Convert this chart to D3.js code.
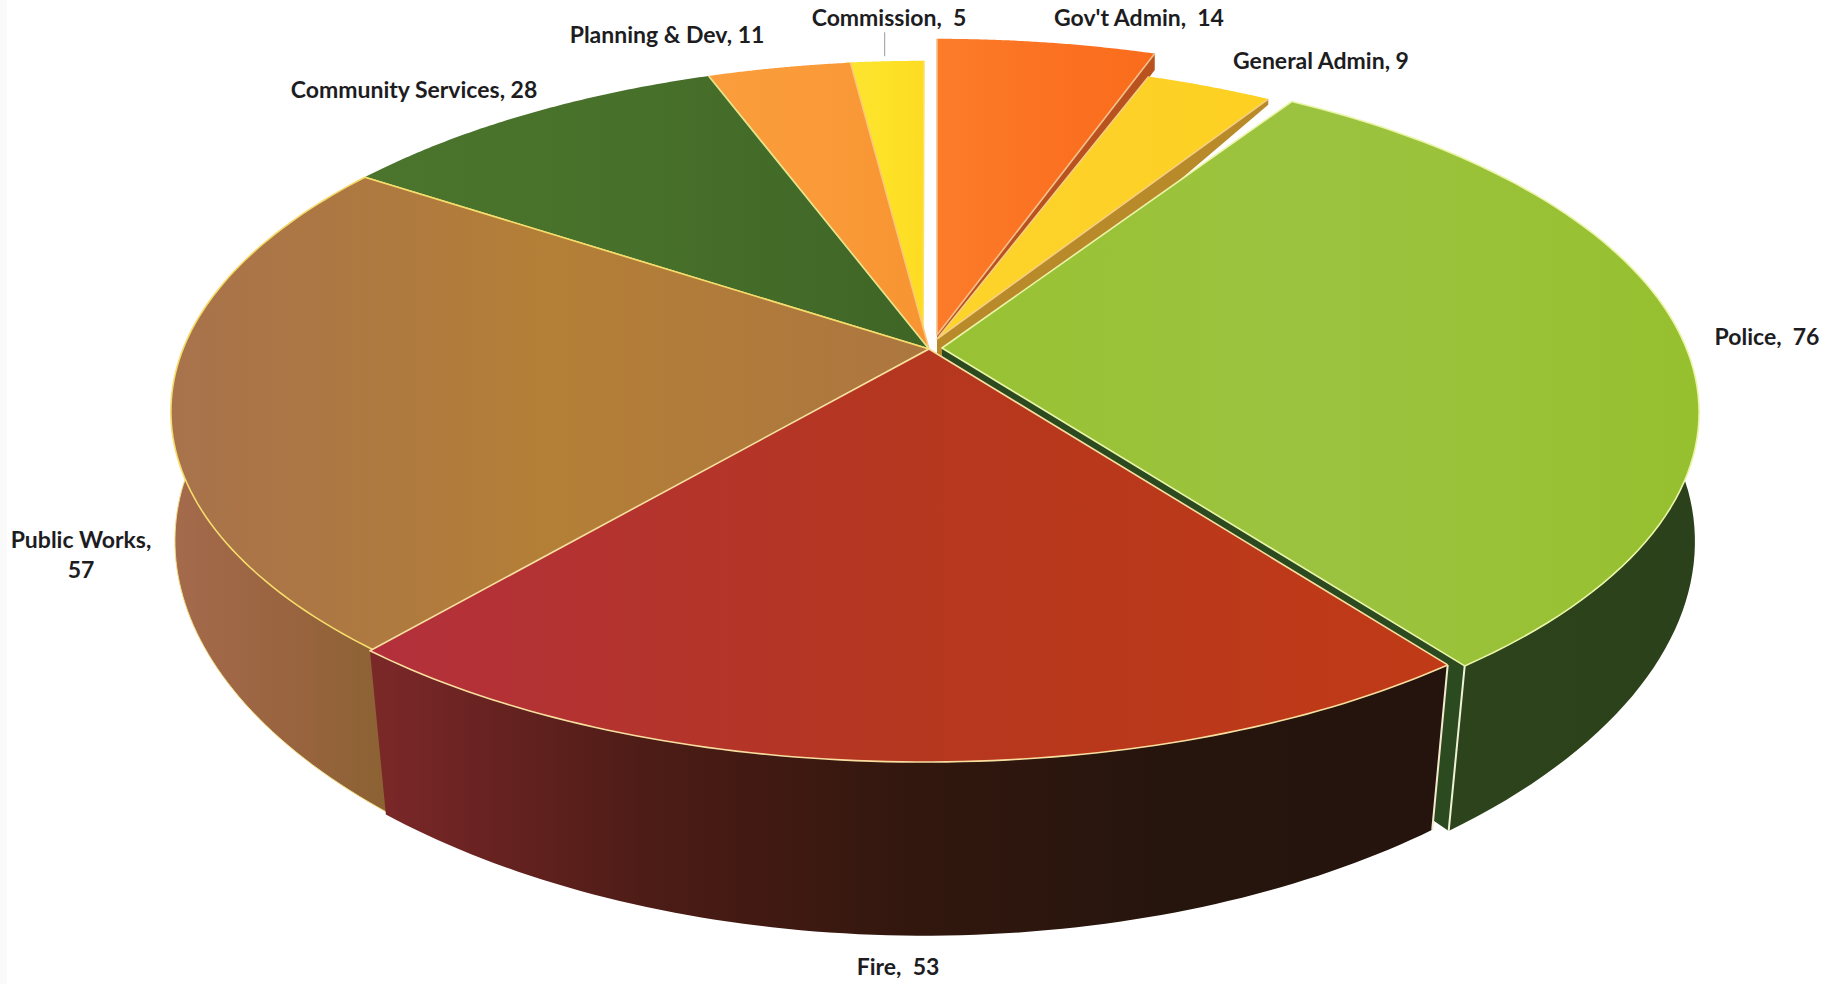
<!DOCTYPE html>
<html><head><meta charset="utf-8">
<script src="https://cdn.jsdelivr.net/npm/d3@7/dist/d3.min.js"></script>
<style>html,body{margin:0;padding:0;background:#fff;overflow:hidden}svg{display:block}text{font-family:Lato,"Open Sans",sans-serif;font-weight:700;fill:#1d1d1f}</style>
</head><body><svg id="c" width="1843" height="984"></svg>
<script>
// Data, clockwise from twelve o'clock
const categories = ["Gov't Admin","General Admin","Police","Fire","Public Works","Community Services","Planning & Dev","Commission"];
const values = [14,9,76,53,57,28,11,5];
const labelLines = [["Gov't Admin,  14"],["General Admin, 9"],["Police,  76"],["Fire,  53"],["Public Works,","57"],["Community Services, 28"],["Planning & Dev, 11"],["Commission,  5"]];

// Colours: stops of each top, left to right
const topColors = [["#fc7c2a","#fb7222","#fa6c1c"],["#fdd42a","#fdd128","#fdd021"],["#98c233","#9cc340","#96c02e"],["#b3303c","#b5371f","#c03a16"],["#a8724c","#b47f36","#ac7640"],["#4b742c","#47702a","#3f6526"],["#fb9d3c","#fa9a38","#f89432"],["#fde430","#fde228","#fddc22"]];
const wallColors = [null,null,["#2d451c","#2c431b","#2b411b"],["#7a2728","#4d1c16","#32170e","#26150d","#24140d"],["#a46a4c","#9a6440","#8b6232"],null,null,null];
const faceColors = ["#b9521f","#b98a2a","#2b4a20",null,null,null,null,null];
const faceRimDepth = [0.15,0.05,1,0,0,0,0,0];
const faceApexDepth = [0.15,0.35,1,0,0,0,0,0];
const edgeColors = ["#f3c08a","#f5cf80","#eaf5a8","#f8dfa0","#f6dc6a","#e6e48a","#fbc878","#fde060"];
// Slice drawing: explosion offsets of rim and apex in pixels [rimDx, rimDy, apexDx, apexDy]
const offsets = [[8,-22,8,-14],[-5,0,8,-10],[12,1,13,-1],[-5,0,0,0],[0,0,0,0],[0,0,0,0],[0,0,0,0],[-5,0,-6,0]];
const rimInsetDeg = [0,0.65,0,0,0,0,0,0];
const hasRimStroke = [false,false,true,true,true,false,false,false];
const labelX = [1139,1321,1767,898,81,414,667,889];
const labelY = [18,61,337,967,540,90,35,18];
const paintOrder = [0,1,2,7,6,5,4,3];

const cx=929, cy=349, a=746, b=339.5, k=0.178;
const sy=1.09, H=136.5;
const warpDeg = d3.scaleLinear()
  .domain([0,19.9,32.7,140.9,216.3,297.4,337.2,352.9,360])
  .range([0,19.9,32.7,143.0,219.9,303.8,339.8,352.9,360]);

function rimPoint(th,off){ // th in degrees clockwise from top
  const t=warpDeg(th)*Math.PI/180, X=Math.sin(t), Y=-Math.cos(t), w=1-k*Y;
  return [cx+a*X/w+off[0], cy+b*Y/w+off[1]];
}
const apexPoint = off => [cx+off[2], cy+off[3]];
const lower = p => {
  const sx=1-0.03*Math.max(0,p[1]-cy)/318;
  return [cx+(p[0]-cx)*sx, cy+(p[1]-cy)*sy+H];
};
const partway = (p,f) => { const q=lower(p); return [p[0]+(q[0]-p[0])*f, p[1]+(q[1]-p[1])*f]; };

const svg=d3.select("#c");
const defs=svg.append("defs");
const line=d3.line();
const pie=d3.pie().sort(null).value(d=>d)(values);
const deg=r=>r*180/Math.PI;

function grad(id,cols,x1,x2){
  const g=defs.append("linearGradient").attr("id",id).attr("gradientUnits","userSpaceOnUse")
    .attr("x1",x1).attr("x2",x2).attr("y1",0).attr("y2",0);
  g.selectAll("stop").data(cols).join("stop").attr("offset",(d,i)=>i/(cols.length-1)).attr("stop-color",d=>d);
  return `url(#${id})`;
}

svg.append("rect").attr("width",7).attr("height",984).attr("fill","#fafafa");

const layer=svg.append("g");
paintOrder.forEach(i=>{
  const s=pie[i], a0=deg(s.startAngle)+rimInsetDeg[i], a1=deg(s.endAngle)-rimInsetDeg[i], off=offsets[i];
  const angles=d3.range(0,81).map(j=>a0+(a1-a0)*j/80);
  const rim=angles.map(t=>rimPoint(t,off));
  const apex=apexPoint(off);
  const xs=rim.map(p=>p[0]).concat(apex[0]);
  const g=layer.append("g").attr("class","slice").datum(categories[i]);
  if(wallColors[i]){
    const low=rim.map(lower).reverse();
    g.append("path").attr("d",line(rim.concat(low))+"Z")
      .attr("fill",grad("w"+i,wallColors[i],d3.min(low,p=>p[0]),d3.max(low,p=>p[0])));
    if(i===4) g.append("path").attr("d",line(rim.map(lower))).attr("fill","none").attr("stroke","#f3dc80").attr("stroke-width",1);
  }
  if(faceColors[i]){
    const e=rim[rim.length-1];
    g.append("path").attr("d",line([apex,e,partway(e,faceRimDepth[i]),partway(apex,faceApexDepth[i])])+"Z").attr("fill",faceColors[i]);
    if(i===2) g.append("path").attr("d",line([e,lower(e)])).attr("stroke","#f0f3d8").attr("stroke-width",2);
  }
  if(i===3||i===4){
    const e=i===3?rim[0]:rim[rim.length-1];
    g.append("path").attr("d",line([e,lower(e)])).attr("stroke",i===3?"#f4ead0":"#f5dca0").attr("stroke-width",2);
  }
  g.append("path").attr("d",line(rim.concat([apex]))+"Z")
    .attr("fill",grad("t"+i,topColors[i],d3.min(xs),d3.max(xs)));
  // radial edges plus, for the front slices, the rim
  const last=rim[rim.length-1];
  g.append("path").attr("fill","none").attr("stroke",edgeColors[i]).attr("stroke-width",1.6).attr("stroke-linejoin","round")
    .attr("d",hasRimStroke[i]?line(rim.concat([apex,rim[0]])):line([rim[0],apex,last]));
});

// Leader line for Commission
const cs=pie[7], cp=rimPoint(deg(cs.startAngle+cs.endAngle)/2,offsets[7]);
svg.append("line").attr("x1",cp[0]).attr("x2",cp[0]).attr("y1",cp[1]-5).attr("y2",cp[1]-29).attr("stroke","#9a9a9a").attr("stroke-width",1);

// Labels
svg.append("g").selectAll("text").data(labelLines).join("text")
  .attr("text-anchor","middle").attr("font-size",23)
  .attr("transform",(d,i)=>`translate(${labelX[i]},${labelY[i]})`)
  .each(function(d){
    d3.select(this).selectAll("tspan").data(d).join("tspan")
      .attr("x",0).attr("y",(t,j)=>j*30).attr("dy","0.35em").style("white-space","pre").attr("xml:space","preserve").text(t=>t);
  });
</script></body></html>
